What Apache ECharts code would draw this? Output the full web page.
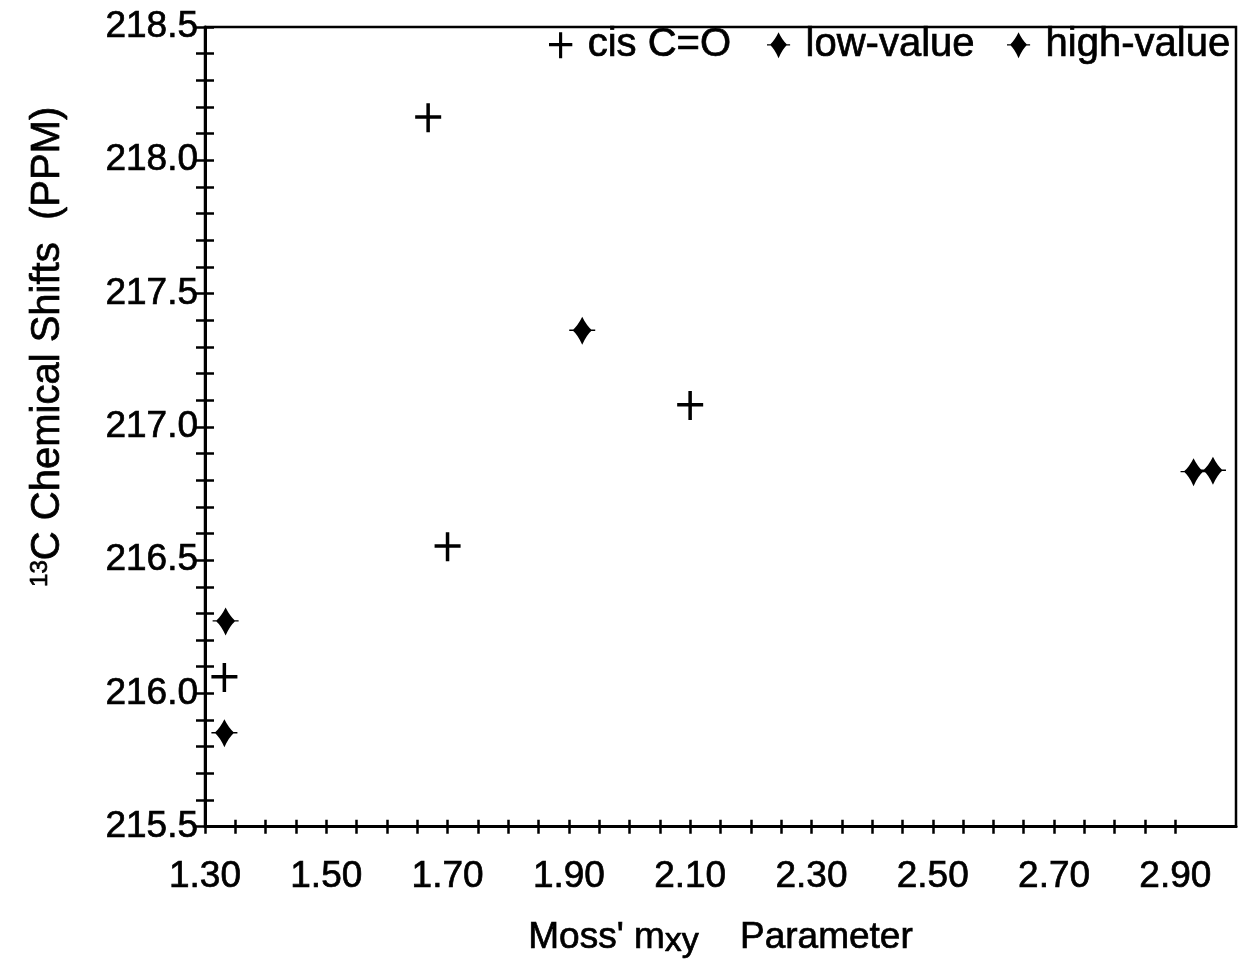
<!DOCTYPE html>
<html><head><meta charset="utf-8">
<script src="https://cdn.jsdelivr.net/npm/echarts@6/dist/echarts.min.js"></script>
<style>html,body{margin:0;padding:0;background:#fff}#c{width:1256px;height:964px}</style>
</head><body><div id="c"></div>
<script>
// ---- data ----
const seriesNames = ['cis C=O', 'low-value', 'high-value'];
const cisCO = [[1.332, 216.06], [1.668, 218.16], [1.70, 216.55], [2.10, 217.08]];
const lowValue = [[1.332, 215.85], [2.93, 216.83]];
const highValue = [[1.334, 216.27], [1.922, 217.36], [2.962, 216.835]];
const xTickValues = [1.30,1.35,1.40,1.45,1.50,1.55,1.60,1.65,1.70,1.75,1.80,1.85,1.90,1.95,2.00,2.05,2.10,2.15,2.20,2.25,2.30,2.35,2.40,2.45,2.50,2.55,2.60,2.65,2.70,2.75,2.80,2.85,2.90];
const xLabelValues = [1.30,1.50,1.70,1.90,2.10,2.30,2.50,2.70,2.90];
const yTickValues = [215.5,215.6,215.7,215.8,215.9,216.0,216.1,216.2,216.3,216.4,216.5,216.6,216.7,216.8,216.9,217.0,217.1,217.2,217.3,217.4,217.5,217.6,217.7,217.8,217.9,218.0,218.1,218.2,218.3,218.4,218.5];
const yLabelValues = [215.5,216.0,216.5,217.0,217.5,218.0,218.5];

// ---- style ----
const FONT = '"Liberation Sans", Arial, sans-serif';
const plusPath = 'path://M0 12 L26 12 L26 15.5 L0 15.5 Z M11.2 0 L14.7 0 L14.7 29 L11.2 29 Z';
const starPath = 'path://M12 0 Q16 8.5 21 13 Q16 17.5 12 27 Q8 17.5 3 13 Q8 8.5 12 0 Z M0 12.3 L24 12.3 L24 13.7 L0 13.7 Z';
const TXT = { color: '#000', fontFamily: FONT, textBorderColor: '#000', textBorderWidth: 0.7 };

const chart = echarts.init(document.getElementById('c'));
const xMin = 1.3, xMax = 3.0, yMin = 215.5, yMax = 218.5;

function baseX(inside) {
  return {
    type: 'value', min: xMin, max: xMax, position: 'bottom',
    axisLine: { show: !inside, lineStyle: { color: '#000', width: 3 } },
    axisTick: { show: true, inside: inside, length: 7, customValues: xTickValues, lineStyle: { color: '#000', width: 2.5 } },
    axisLabel: inside ? { show: false } : Object.assign({
      show: true, customValues: xLabelValues, margin: 32,
      formatter: v => v.toFixed(2), fontSize: 37
    }, TXT),
    splitLine: { show: false }
  };
}
function baseY(inside) {
  return {
    type: 'value', min: yMin, max: yMax, position: 'left',
    axisLine: { show: !inside, lineStyle: { color: '#000', width: 3 } },
    axisTick: { show: true, inside: inside, length: 9, customValues: yTickValues, lineStyle: { color: '#000', width: 2.5 } },
    axisLabel: inside ? { show: false } : Object.assign({
      show: true, customValues: yLabelValues, margin: 7,
      formatter: v => v.toFixed(1), fontSize: 37
    }, TXT),
    splitLine: { show: false }
  };
}

const x0 = baseX(false);
x0.name = "Moss' m{sub|xy}    Parameter";
x0.nameLocation = 'middle';
x0.nameGap = 90;
x0.nameTextStyle = Object.assign({ fontSize: 37,
  rich: { sub: Object.assign({ fontSize: 34, padding: [8, 0, 0, 0] }, TXT) } }, TXT);
const y0 = baseY(false);
y0.name = '{sup|13}C Chemical Shifts  (PPM)';
y0.nameLocation = 'middle';
y0.nameGap = 137;
y0.nameTextStyle = Object.assign({ fontSize: 40, padding: [0, 0, 0, 160],
  rich: { sup: Object.assign({ fontSize: 24, padding: [0, 0, 16, 0] }, TXT) } }, TXT);

function legendAt(name, left) {
  return {
    data: [name], left: left, top: 25, padding: 0, itemWidth: 44, itemHeight: 26,
    selectedMode: false,
    textStyle: Object.assign({ fontSize: 40 }, TXT)
  };
}

chart.setOption({
  animation: false,
  backgroundColor: '#fff',
  grid: { left: 205, right: 20, top: 27, bottom: 136, show: true, borderColor: '#000', borderWidth: 2.5 },
  xAxis: [x0, baseX(true)],
  yAxis: [y0, baseY(true)],
  legend: [legendAt(seriesNames[0], 549), legendAt(seriesNames[1], 767), legendAt(seriesNames[2], 1007)],
  series: [
    { name: seriesNames[0], type: 'scatter', data: cisCO, symbol: plusPath, symbolSize: [26, 29], itemStyle: { color: '#000', opacity: 1 } },
    { name: seriesNames[1], type: 'scatter', data: lowValue, symbol: starPath, symbolSize: [26, 28], itemStyle: { color: '#000', opacity: 1 } },
    { name: seriesNames[2], type: 'scatter', data: highValue, symbol: starPath, symbolSize: [26, 28], itemStyle: { color: '#000', opacity: 1 } }
  ]
});
</script>
</body></html>
